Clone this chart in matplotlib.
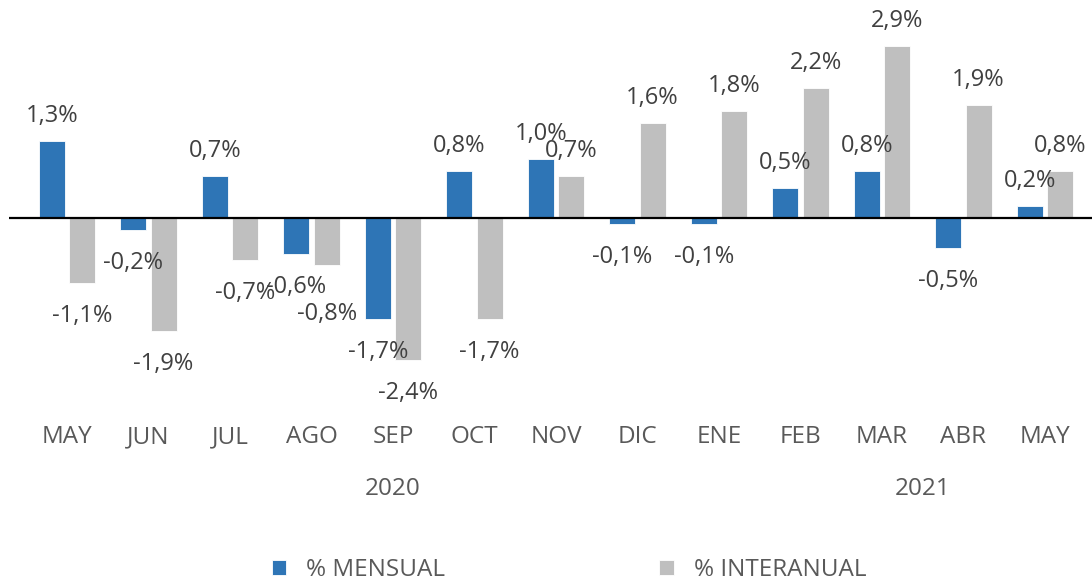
import matplotlib
matplotlib.use("Agg")
from matplotlib import pyplot as plt

plt.rcParams['font.family'] = ['Open Sans', 'DejaVu Sans']

months = ['MAY', 'JUN', 'JUL', 'AGO', 'SEP', 'OCT', 'NOV', 'DIC', 'ENE', 'FEB', 'MAR', 'ABR', 'MAY']
mensual = [1.3, -0.2, 0.7, -0.6, -1.7, 0.8, 1.0, -0.1, -0.1, 0.5, 0.8, -0.5, 0.2]
interanual = [-1.1, -1.9, -0.7, -0.8, -2.4, -1.7, 0.7, 1.6, 1.8, 2.2, 2.9, 1.9, 0.8]
years = ['2020', '2021']
year_pos = [4.0, 10.5]

BLUE = '#2E75B6'
GRAY = '#BFBFBF'
TEXT = '#404040'
TICK = '#595959'
FS = 17
FS_TICK = 17.5

W, H = 1092, 583
fig = plt.figure(figsize=(W / 100, H / 100), dpi=100)
ax = fig.add_axes([9 / W, (H - 420) / H, (W - 9) / W, 420 / H])

x = list(range(len(months)))
bw = 0.32
gap = 0.025
xb = [i - bw / 2 - gap for i in x]
xg = [i + bw / 2 + gap for i in x]
b1 = ax.bar(xb, mensual, width=bw, color=BLUE, edgecolor='white', linewidth=0.6, label='% MENSUAL', zorder=2)
b2 = ax.bar(xg, interanual, width=bw, color=GRAY, edgecolor='white', linewidth=0.6, label='% INTERANUAL', zorder=2)
ax.axhline(0, color='black', linewidth=1.6, zorder=3)

def fmt(v):
    return ('%.1f%%' % v).replace('.', ',')

# extra push for the AGO interanual label, like the original
nudge = {(1, 3): -16}

for s, (xs, vals) in enumerate(((xb, mensual), (xg, interanual))):
    for i, (xi, v) in enumerate(zip(xs, vals)):
        off = 25 if v >= 0 else -33
        off += nudge.get((s, i), 0)
        ax.annotate(fmt(v), (xi, v), xytext=(0, off), textcoords='offset pixels',
                    ha='center', va='center', fontsize=FS, color=TEXT)

ax.set_xlim(-0.712, 12.577)
ax.set_ylim(-202 / 59.3, 218 / 59.3)
ax.axis('off')

for xi, m in zip(x, months):
    ax.annotate(m, (xi, 0), xycoords=('data', 'figure pixels'), xytext=(xi, H - 437),
                textcoords=('data', 'figure pixels'), ha='center', va='center', fontsize=FS_TICK, color=TICK)
for yp, yr in zip(year_pos, years):
    ax.annotate(yr, (yp, 0), xycoords=('data', 'figure pixels'), xytext=(yp, H - 489),
                textcoords=('data', 'figure pixels'), ha='center', va='center', fontsize=FS_TICK, color=TICK)

leg = fig.legend(handles=[b1, b2], loc='center', bbox_to_anchor=(569 / W, (H - 570) / H),
                 ncol=2, frameon=False, fontsize=FS_TICK, handlelength=0.6, handleheight=0.6,
                 handletextpad=0.82, columnspacing=8.8, labelcolor=TICK)

fig.savefig('out.png', dpi=100)
